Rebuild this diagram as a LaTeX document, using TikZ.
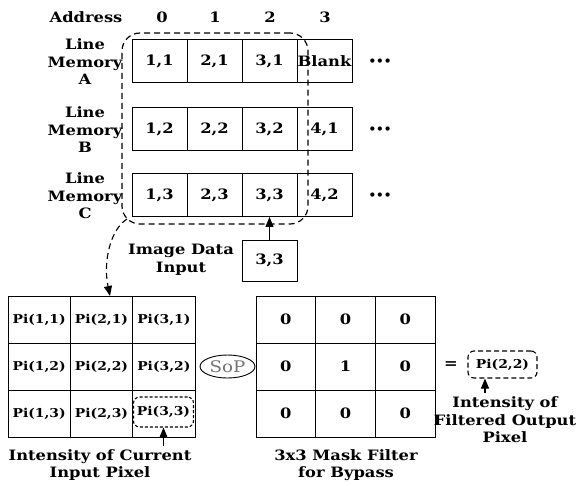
\documentclass[tikz,border=0pt]{standalone}
\usepackage{fontspec}
\setmainfont[FakeStretch=1.14]{DejaVu Serif}
\newfontfamily\dotfont{DejaVu Sans}
\usetikzlibrary{arrows.meta,shapes.geometric}
\begin{document}
\begin{tikzpicture}[x=1pt,y=-1pt,
 every node/.style={font=\bfseries\fontsize{14.3}{17.5}\selectfont, align=center, inner sep=0pt},
 cell/.style={draw, line width=0.9pt, minimum width=55pt, minimum height=43pt},
 gcell/.style={draw, line width=0.9pt, minimum width=62.33pt, minimum height=47pt, font=\bfseries\fontsize{12.2}{14}\selectfont},
 mcell/.style={draw, line width=0.9pt, minimum width=59.67pt, minimum height=47pt},
 smalldash/.style={draw, line width=1.1pt, rounded corners=6pt, dash pattern=on 3pt off 2pt},
 arr/.style={line width=1.1pt, -{Triangle[length=10pt,width=8pt]}},
 dots/.style={font=\dotfont\bfseries\fontsize{12}{13}\selectfont},
]
\useasboundingbox (0,0) rectangle (580,485);

% header
\node (addr) at (86,17) {Address};
\node (h0) at (162,17) {0};
\node (h1) at (215,17) {1};
\node (h2) at (270,17) {2};
\node (h3) at (325,17) {3};

% line memory labels
\node (lA) at (85,62) {Line\\Memory\\A};
\node (lB) at (85,130) {Line\\Memory\\B};
\node (lC) at (85,196) {Line\\Memory\\C};

% line memory cells
\node[cell] (A1) at (159.5,61) {1,1};
\node[cell] (A2) at (214.5,61) {2,1};
\node[cell] (A3) at (269.5,61) {3,1};
\node[cell] (A4) at (324.5,61) {Blank};
\node[cell] (B1) at (159.5,129) {1,2};
\node[cell] (B2) at (214.5,129) {2,2};
\node[cell] (B3) at (269.5,129) {3,2};
\node[cell] (B4) at (324.5,129) {4,1};
\node[cell] (C1) at (159.5,195) {1,3};
\node[cell] (C2) at (214.5,195) {2,3};
\node[cell] (C3) at (269.5,195) {3,3};
\node[cell] (C4) at (324.5,195) {4,2};
\node[dots] (dA) at (380,62) {•••};
\node[dots] (dB) at (380,130) {•••};
\node[dots] (dC) at (380,196) {•••};

% window
\node[draw, line width=1.2pt, dash pattern=on 6pt off 4pt, rounded corners=18pt,
      minimum width=186pt, minimum height=191pt] (win) at (215,128.5) {};

% input
\node (inlab) at (181,260) {Image Data\\Input};
\node[cell, minimum height=41pt] (in) at (269.5,260.5) {3,3};
\draw[arr] (in.north) -- (C3.south);

% left grid
\node[gcell] (G11) at (39.17,319.5) {Pi(1,1)};
\node[gcell] (G21) at (101.5,319.5) {Pi(2,1)};
\node[gcell] (G31) at (163.83,319.5) {Pi(3,1)};
\node[gcell] (G12) at (39.17,366.5) {Pi(1,2)};
\node[gcell] (G22) at (101.5,366.5) {Pi(2,2)};
\node[gcell] (G32) at (163.83,366.5) {Pi(3,2)};
\node[gcell] (G13) at (39.17,413.5) {Pi(1,3)};
\node[gcell] (G23) at (101.5,413.5) {Pi(2,3)};
\node[gcell] (G33) at (163.83,413.5) {};
\node[smalldash, minimum width=60pt, minimum height=30pt, font=\bfseries\fontsize{12.2}{14}\selectfont] (cur) at (163.5,412) {Pi(3,3)};

% window to grid
\coordinate (cs) at (127,219);
\coordinate (ce) at (110,296);
\draw[arr, dash pattern=on 6pt off 4pt] (cs) .. controls (110,230) and (103,262) .. (ce);

% label current
\coordinate (curlab) at (163.5,446);
\draw[arr] (curlab) -- (cur.south -| curlab);
\node (lcur) at (100,465) {Intensity of Current\\Input Pixel};

% SoP
\node[draw, ellipse, line width=0.9pt, minimum width=55pt, minimum height=23pt, text=black!55, font=\fontsize{16}{17}\selectfont] (sop) at (227.5,366.5) {SoP};

% mask grid
\node[mcell] (M11) at (285.8,319.5) {0};
\node[mcell] (M21) at (345.5,319.5) {0};
\node[mcell] (M31) at (405.2,319.5) {0};
\node[mcell] (M12) at (285.8,366.5) {0};
\node[mcell] (M22) at (345.5,366.5) {1};
\node[mcell] (M32) at (405.2,366.5) {0};
\node[mcell] (M13) at (285.8,413.5) {0};
\node[mcell] (M23) at (345.5,413.5) {0};
\node[mcell] (M33) at (405.2,413.5) {0};
\node (lmask) at (346,465) {3x3 Mask Filter\\for Bypass};

% output
\node (eq) at (451,365) {=};
\node[smalldash, dash pattern=on 5pt off 3pt, minimum width=69pt, minimum height=27pt, font=\bfseries\fontsize{12.2}{14}\selectfont] (out) at (502.5,364.5) {Pi(2,2)};
\coordinate (outlab) at (485,393);
\draw[arr] (outlab) -- (out.south -| outlab);
\node (lout) at (505,420) {Intensity of\\Filtered Output\\Pixel};
\end{tikzpicture}
\end{document}
